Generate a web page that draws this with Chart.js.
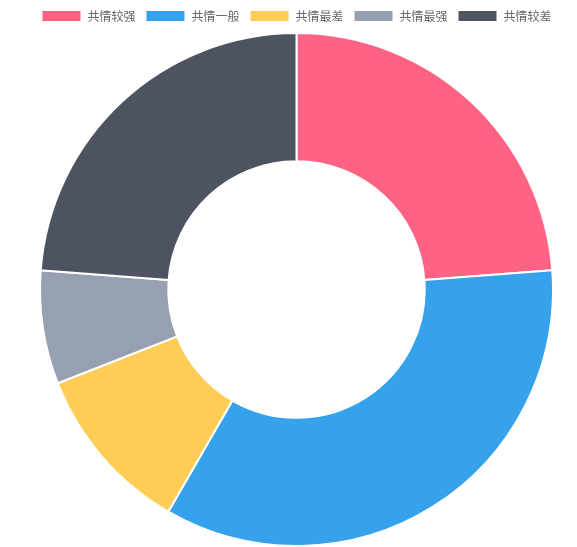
<!DOCTYPE html>
<html>
<head>
<meta charset="utf-8">
<script src="https://cdn.jsdelivr.net/npm/chart.js@4"></script>
<style>
  html, body { margin: 0; padding: 0; background: #fff; }
  #wrap { width: 577px; height: 547px; position: relative; }
</style>
</head>
<body>
<div id="wrap"><canvas id="empathyChart" width="577" height="547"></canvas></div>
<script>
// categories and values
const labels = ['共情较强', '共情一般', '共情最差', '共情最强', '共情较差'];
const counts = [20, 29, 9, 6, 20];
const colors = ['#ff6384', '#36a2eb', '#ffcd56', '#97a0b1', '#4d5360'];

Chart.defaults.font.family = "'Noto Sans CJK SC', 'Noto Sans', sans-serif";
Chart.defaults.font.size = 12;
Chart.defaults.color = '#666';

const ctx = document.getElementById('empathyChart').getContext('2d');
new Chart(ctx, {
  type: 'doughnut',
  data: {
    labels,
    datasets: [{
      data: counts,
      backgroundColor: colors,
      borderColor: '#fff',
      borderWidth: 2
    }]
  },
  options: {
    responsive: false,
    animation: false,
    cutout: '50%',
    layout: { padding: { left: 16, top: 0, bottom: 0 } },
    plugins: {
      legend: {
        position: 'top',
        labels: { boxWidth: 40, boxHeight: 12, padding: 10 }
      },
      tooltip: { enabled: false }
    }
  }
});
</script>
</body>
</html>
